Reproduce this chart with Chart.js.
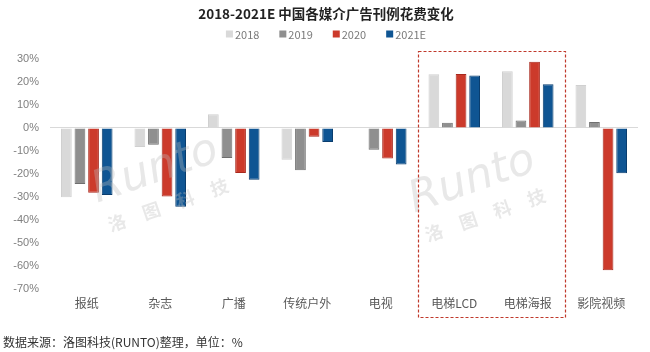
<!DOCTYPE html>
<html>
<head>
<meta charset="utf-8">
<script src="https://cdn.jsdelivr.net/npm/chart.js@4/dist/chart.umd.min.js"></script>
<style>
  html, body { margin: 0; padding: 0; background: #fff; }
  #wrap { position: relative; width: 650px; height: 352px; overflow: hidden; }
  #note { position: absolute; left: 3px; top: 333px; font: 12px "Noto Sans CJK SC", sans-serif; color: #333; white-space: nowrap; }
</style>
</head>
<body>
<div id="wrap">
  <canvas id="c" width="650" height="352"></canvas>
  <div id="note">数据来源：洛图科技(RUNTO)整理，单位：%</div>
</div>
<script>
const titleText = '2018-2021E 中国各媒介广告刊例花费变化';
const categories = ['报纸', '杂志', '广播', '传统户外', '电视', '电梯LCD', '电梯海报', '影院视频'];
const seriesNames = ['2018', '2019', '2020', '2021E'];
const s2018 = [-30.2, -8.3, 5.9, -13.9, -0.3, 23.4, 24.7, 18.7];
const s2019 = [-24.4, -7.3, -13.1, -18.5, -9.5, 2.2, 3.2, 2.6];
const s2020 = [-28.2, -29.9, -19.7, -3.9, -13.3, 23.5, 28.8, -62.0];
const s2021E = [-29.2, -34.3, -22.6, -6.1, -16.0, 22.8, 19.0, -19.8];
const yTicks = [-70, -60, -50, -40, -30, -20, -10, 0, 10, 20, 30];
const highlighted = ['电梯LCD', '电梯海报'];

const fills = ['#d9d9d9', '#8f8f8f', '#cc3a2b', '#0f5593'];
const borders = ['#d0d0d0', '#6f6f6f', '#a8281d', '#0a3d6e'];
const values = [s2018, s2019, s2020, s2021E];

const cjk = '"Noto Sans CJK SC", "Noto Sans", sans-serif';

const decor = {
  id: 'decor',
  afterDatasetsDraw(chart) {
    const ctx = chart.ctx;
    // watermarks
    const marks = [[155, 185], [472, 195]];
    marks.forEach(([cx, cy]) => {
      ctx.save();
      ctx.translate(cx, cy);
      ctx.rotate(-19 * Math.PI / 180);
      ctx.fillStyle = 'rgba(190,190,190,0.35)';
      ctx.font = 'italic 44px "DejaVu Sans", sans-serif';
      ctx.textAlign = 'center';
      ctx.textBaseline = 'alphabetic';
      ctx.fillText('Runto', 5, -2);
      ctx.font = 'bold 18px ' + cjk;
      const chars = ['洛', '图', '科', '技'];
      chars.forEach((ch, i) => ctx.fillText(ch, -48 + i * 36, 30));
      ctx.restore();
    });
  },
  afterDraw(chart) {
    const ctx = chart.ctx;
    const xs = chart.scales.x;
    const area = chart.chartArea;
    // title
    ctx.save();
    ctx.fillStyle = '#222';
    ctx.font = 'bold 13.5px ' + cjk;
    ctx.textAlign = 'center';
    ctx.textBaseline = 'middle';
    ctx.fillText(titleText, 326, 14);
    // legend
    ctx.font = '11px ' + cjk;
    ctx.textAlign = 'left';
    const box = 7, gap = 2, spacing = 20;
    const widths = chart.data.datasets.map(d => box + gap + ctx.measureText(d.label).width);
    const total = widths.reduce((a, b) => a + b, 0) + spacing * (widths.length - 1);
    let x = 326 - total / 2;
    const ly = 34;
    chart.data.datasets.forEach((d, i) => {
      ctx.fillStyle = d.backgroundColor;
      ctx.fillRect(x, ly - box / 2, box, box);
      ctx.fillStyle = '#7a7a7a';
      ctx.fillText(d.label, x + box + gap, ly + 1);
      x += widths[i] + spacing;
    });
    // highlight frame
    const i0 = categories.indexOf(highlighted[0]);
    const i1 = categories.indexOf(highlighted[highlighted.length - 1]);
    const left = (xs.getPixelForValue(i0 - 1) + xs.getPixelForValue(i0)) / 2;
    const right = (xs.getPixelForValue(i1) + xs.getPixelForValue(i1 + 1)) / 2;
    const top = area.top - 8;
    const bottom = area.bottom + 28;
    ctx.strokeStyle = '#c0392b';
    ctx.lineWidth = 1.2;
    ctx.setLineDash([3, 2]);
    ctx.strokeRect(Math.round(left) + 0.5, Math.round(top) + 0.5, Math.round(right - left), Math.round(bottom - top));
    ctx.restore();
  }
};

new Chart(document.getElementById('c'), {
  type: 'bar',
  data: {
    labels: categories,
    datasets: seriesNames.map((n, i) => ({
      label: n,
      data: values[i],
      backgroundColor: fills[i],
      borderColor: borders[i],
      borderWidth: 1,
      categoryPercentage: 0.74,
      barPercentage: 0.79
    }))
  },
  options: {
    responsive: false,
    animation: false,
    devicePixelRatio: 1,
    layout: { padding: { top: 59, bottom: 33, left: 0, right: 12 } },
    plugins: {
      legend: { display: false },
      title: { display: false },
      tooltip: { enabled: false }
    },
    scales: {
      x: {
        grid: { display: false, drawTicks: false },
        border: { display: false },
        ticks: {
          font: { family: cjk, size: 12 },
          color: '#595959',
          padding: 8,
          maxRotation: 0,
          autoSkip: false
        }
      },
      y: {
        min: yTicks[0],
        max: yTicks[yTicks.length - 1],
        afterBuildTicks(scale) { scale.ticks = yTicks.map(v => ({ value: v })); },
        afterFit(scale) { scale.width = 50; },
        grid: {
          drawTicks: false,
          color: c => (c.tick && c.tick.value === 0) ? '#d9d9d9' : 'rgba(0,0,0,0)',
          lineWidth: 1
        },
        border: { display: false },
        ticks: {
          callback: v => v + '%',
          font: { family: '"Liberation Sans", Arial, sans-serif', size: 11 },
          color: '#808080',
          padding: 11
        }
      }
    }
  },
  plugins: [decor]
});
</script>
</body>
</html>
